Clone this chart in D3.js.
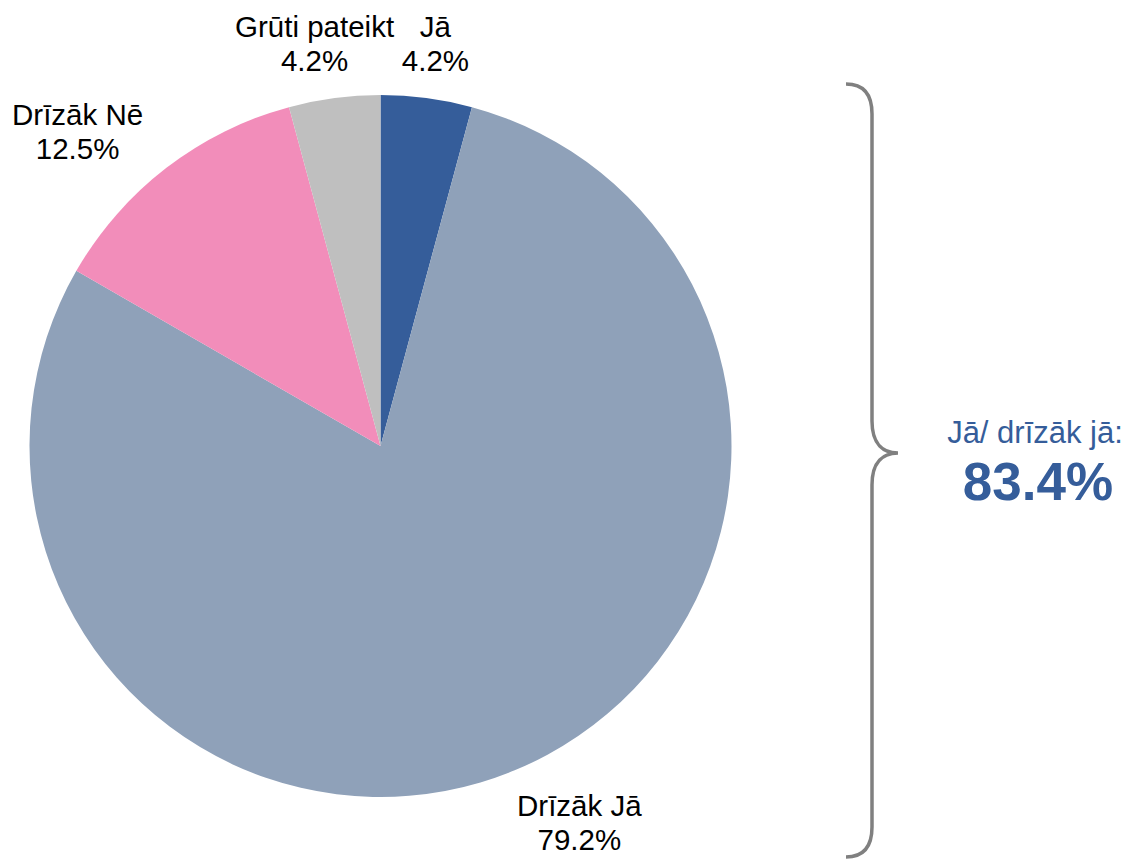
<!DOCTYPE html>
<html>
<head>
<meta charset="utf-8">
<script src="https://cdnjs.cloudflare.com/ajax/libs/d3/7.8.5/d3.min.js"></script>
<style>
	body { margin: 0; background: #fff; }
	text { font-family: "Liberation Sans", Arial, sans-serif; }
</style>
</head>
<body>
<svg id="chart" width="1128" height="860"></svg>
<script>
	// data
	var categories = ["Jā", "Drīzāk Jā", "Drīzāk Nē", "Grūti pateikt"];
	var values = [4.2, 79.2, 12.5, 4.2];
	var valueLabels = ["4.2%", "79.2%", "12.5%", "4.2%"];
	var colors = ["#355D9A", "#8FA1B9", "#F28DBA", "#BFBFBF"];
	var summaryLabel = "Jā/ drīzāk jā:";
	var summaryValue = "83.4%";

	// label nudges from the outer centroid (best-fit placement)
	var labelNudge = [[0, 11], [39, -10], [-48, 16], [-11, 11]];

	var svg = d3.select("#chart");
	var cx = 380.5, cy = 446, r = 351;

	var pie = d3.pie().sort(null).value(function(d){ return d; });
	var arcs = pie(values);
	var arc = d3.arc().innerRadius(0).outerRadius(r);
	var labelArc = d3.arc().innerRadius(r + 67).outerRadius(r + 67);

	var g = svg.append("g").attr("transform", "translate(" + cx + "," + cy + ")");

	g.selectAll("path.slice")
		.data(arcs)
		.enter().append("path")
		.attr("class", "slice")
		.attr("d", arc)
		.attr("fill", function(d, i){ return colors[i]; });

	var labels = g.selectAll("text.lbl")
		.data(arcs)
		.enter().append("text")
		.attr("class", "lbl")
		.attr("text-anchor", "middle")
		.style("font-size", "29.5px")
		.attr("fill", "#000")
		.attr("transform", function(d, i){
			var c = labelArc.centroid(d);
			return "translate(" + (c[0] + labelNudge[i][0]) + "," + (c[1] + labelNudge[i][1]) + ")";
		});
	labels.append("tspan").attr("x", 0).attr("y", -6).text(function(d, i){ return categories[i]; });
	labels.append("tspan").attr("x", 0).attr("y", 28).text(function(d, i){ return valueLabels[i]; });

	// brace
	var bx = 872, bTop = 84, bBot = 857, bMid = 453;
	var brace = "M" + (bx - 26) + "," + bTop +
		" Q" + bx + "," + bTop + " " + bx + "," + (bTop + 30) +
		" L" + bx + "," + (bMid - 32) +
		" C" + bx + "," + (bMid - 8) + " " + (bx + 12) + "," + bMid + " " + (bx + 26) + "," + bMid +
		" C" + (bx + 12) + "," + bMid + " " + bx + "," + (bMid + 8) + " " + bx + "," + (bMid + 32) +
		" L" + bx + "," + (bBot - 30) +
		" Q" + bx + "," + bBot + " " + (bx - 26) + "," + bBot;
	svg.append("path")
		.attr("d", brace)
		.attr("fill", "none")
		.attr("stroke", "#808080")
		.attr("stroke-width", 3.5);

	svg.append("text")
		.attr("x", 1035).attr("y", 443)
		.attr("text-anchor", "middle")
		.attr("fill", "#355D9A")
		.style("font-size", "31px")
		.text(summaryLabel);
	svg.append("text")
		.attr("x", 1038).attr("y", 500)
		.attr("text-anchor", "middle")
		.attr("fill", "#355D9A")
		.style("font-size", "53px")
		.style("font-weight", "bold")
		.text(summaryValue);
</script>
</body>
</html>
